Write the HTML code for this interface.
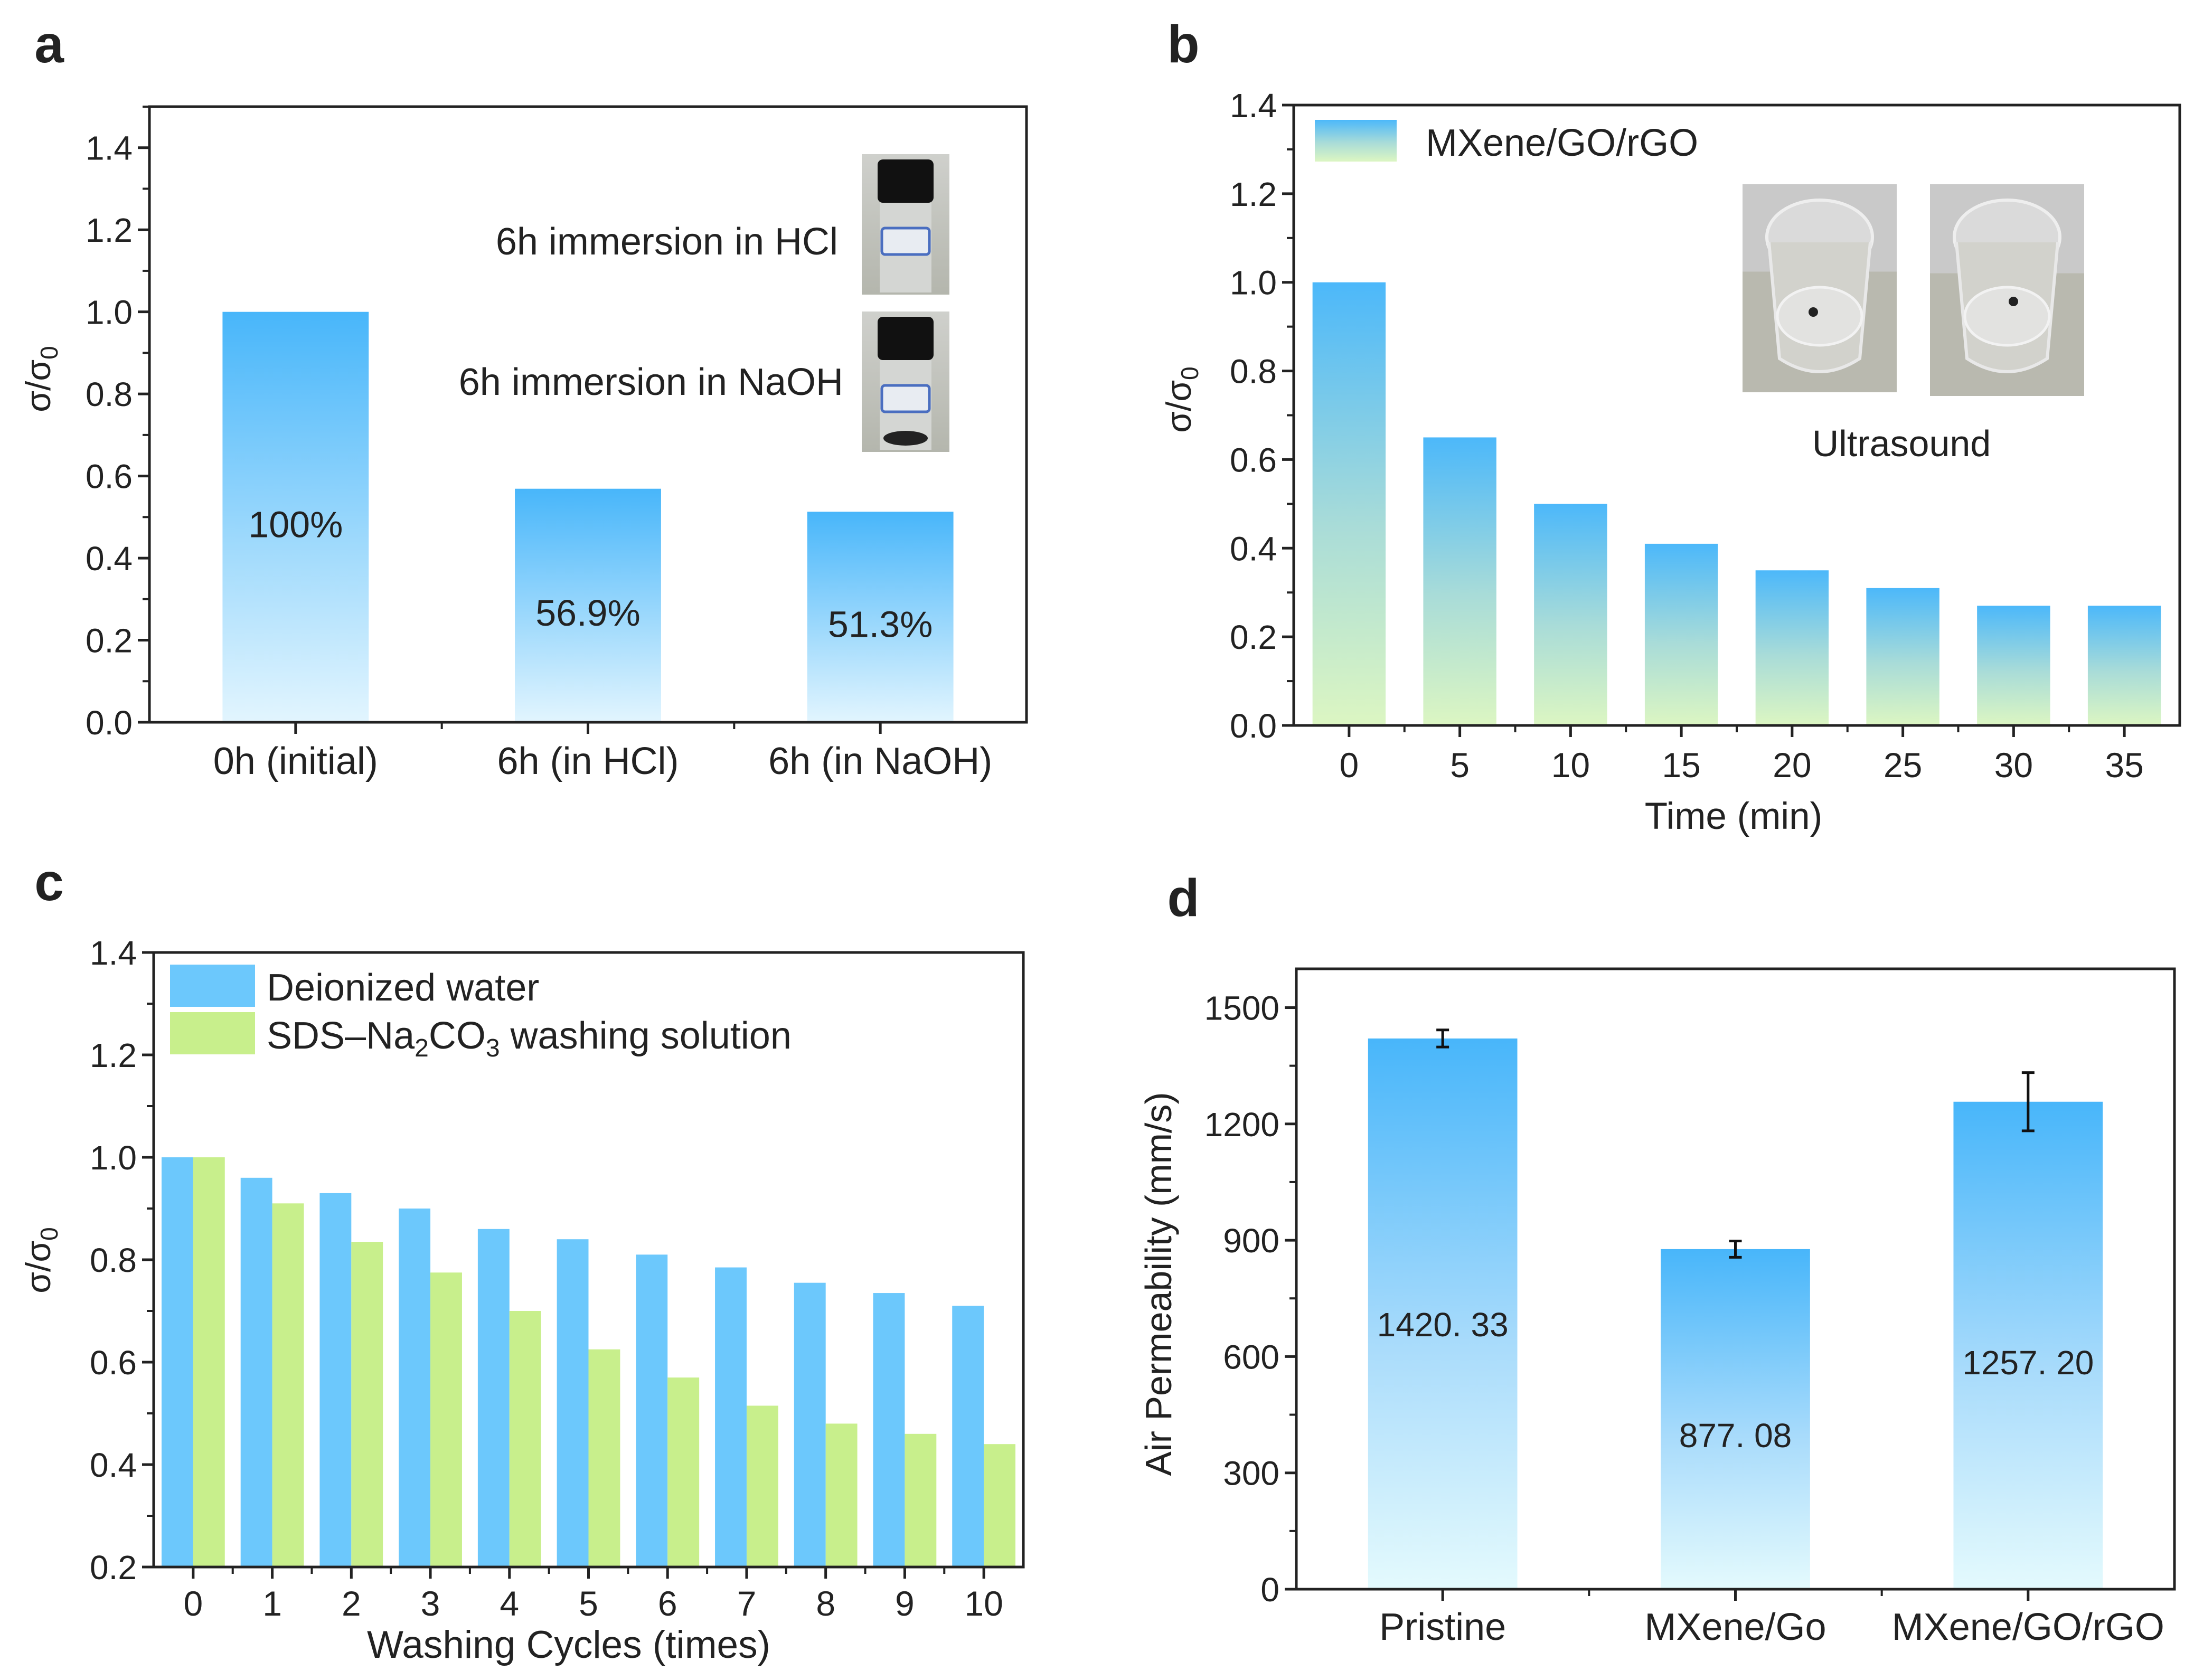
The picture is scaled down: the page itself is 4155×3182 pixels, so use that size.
<!DOCTYPE html>
<html><head><meta charset="utf-8"><style>
html,body{margin:0;padding:0;background:#fff}
svg{display:block;font-family:"Liberation Sans",Arial,sans-serif}
</style></head><body>
<svg id="fig" width="4155" height="3182" viewBox="0 0 4155 3182" xmlns="http://www.w3.org/2000/svg">
<defs>
<linearGradient id="gBlue" x1="0" y1="0" x2="0" y2="1"><stop offset="0" stop-color="#48b6fa"/><stop offset="1" stop-color="#e2f5fe"/></linearGradient>
<linearGradient id="gBlueD" x1="0" y1="0" x2="0" y2="1"><stop offset="0" stop-color="#48b6fa"/><stop offset="0.55" stop-color="#a8dbfb"/><stop offset="1" stop-color="#e4fafd"/></linearGradient>
<linearGradient id="gBG" x1="0" y1="0" x2="0" y2="1"><stop offset="0" stop-color="#4cb8fa"/><stop offset="0.55" stop-color="#a9dcd8"/><stop offset="1" stop-color="#dcf6c2"/></linearGradient>
<linearGradient id="gPhotoA" x1="0" y1="0" x2="0" y2="1"><stop offset="0" stop-color="#cfd0cc"/><stop offset="1" stop-color="#b4b6ad"/></linearGradient>
</defs>
<g id="root"></g>
</svg>
<script>
// ---- data ----
const aCats = ["0h (initial)", "6h (in HCl)", "6h (in NaOH)"];
const aVals = [1.0, 0.569, 0.513];
const aLabels = ["100%", "56.9%", "51.3%"];
const aTicks = [0.0, 0.2, 0.4, 0.6, 0.8, 1.0, 1.2, 1.4];

const bCats = ["0", "5", "10", "15", "20", "25", "30", "35"];
const bVals = [1.0, 0.65, 0.50, 0.41, 0.35, 0.31, 0.27, 0.27];
const bTicks = [0.0, 0.2, 0.4, 0.6, 0.8, 1.0, 1.2, 1.4];

const cCats = ["0", "1", "2", "3", "4", "5", "6", "7", "8", "9", "10"];
const cWater = [1.0, 0.96, 0.93, 0.90, 0.86, 0.84, 0.81, 0.785, 0.755, 0.735, 0.71];
const cSDS = [1.0, 0.91, 0.835, 0.775, 0.70, 0.625, 0.57, 0.515, 0.48, 0.46, 0.44];
const cTicks = [0.2, 0.4, 0.6, 0.8, 1.0, 1.2, 1.4];

const dCats = ["Pristine", "MXene/Go", "MXene/GO/rGO"];
const dVals = [1420.33, 877.08, 1257.20];
const dErr = [22, 21, 75];
const dLabels = ["1420. 33", "877. 08", "1257. 20"];
const dTicks = [0, 300, 600, 900, 1200, 1500];

const NS = "http://www.w3.org/2000/svg";
const root = document.getElementById('root');
function mk(tag, attrs, parent, text){
  const e = document.createElementNS(NS, tag);
  for (const k in attrs) e.setAttribute(k, attrs[k]);
  if (text !== undefined) e.textContent = text;
  (parent || root).appendChild(e);
  return e;
}
function axes(p){
  const g = mk('g', {});
  
  
  p.g = g;
  p.y = v => p.B - (v - p.ymin) / (p.ymax - p.ymin) * (p.B - p.T);
  p.cw = (p.R - p.L) / p.n;
  p.x = i => p.L + p.cw * (i + 0.5);
  return p;
}
function frame(p, ticks, fmt, minorStep){
  const g = p.g;
  for (let v = p.ymin; v <= p.ymax + 1e-9; v += minorStep){
    const yy = p.y(v);
    mk('line', {x1:p.L-13, x2:p.L, y1:yy, y2:yy, stroke:'#222', 'stroke-width':4}, g);
  }
  ticks.forEach(v => {
    const yy = p.y(v);
    const t = mk('line', {x1:p.L-22, x2:p.L, y1:yy, y2:yy, stroke:'#222', 'stroke-width':5}, g);
    
    
    const l = mk('text', {x:p.L-32, y:yy+23, 'text-anchor':'end', 'font-size':64, fill:'#222'}, g, fmt(v));
    
    
  });
  for (let i = 0; i < p.n; i++){
    mk('line', {x1:p.x(i), x2:p.x(i), y1:p.B, y2:p.B+22, stroke:'#222', 'stroke-width':5}, g);
    if (i > 0) mk('line', {x1:p.L+p.cw*i, x2:p.L+p.cw*i, y1:p.B, y2:p.B+13, stroke:'#222', 'stroke-width':4}, g);
  }
  const f = mk('rect', {x:p.L, y:p.T, width:p.R-p.L, height:p.B-p.T, fill:'none', stroke:'#222', 'stroke-width':5}, g);
  
  
}
function txt(x, y, s, size, name, opts){
  const a = Object.assign({x:x, y:y, 'font-size':size, fill:'#222', 'text-anchor':'middle'}, opts||{});
  const t = mk('text', a, root, s);
  
  
  return t;
}
function sigmaLabel(x, y){
  const t = mk('text', {x:0, y:0, 'font-size':66, fill:'#222', 'text-anchor':'middle', transform:`translate(${x},${y}) rotate(-90)`});
  
  
  mk('tspan', {}, t, 'σ/σ');
  mk('tspan', {'font-size':46, dy:14}, t, '0');
}

// ---- Panel a ----
const A = axes({name:'panel-a', L:283, R:1944, T:202, B:1368, ymin:0, ymax:1.5, n:3});
aVals.forEach((v,i) => {
  const w = A.cw*0.5;
  const r = mk('rect', {x:A.x(i)-w/2, y:A.y(v), width:w, height:A.y(0)-A.y(v), fill:'url(#gBlue)'}, A.g);
  
  
  const lt = mk('text', {x:A.x(i), y:A.y(v/2)+38, 'text-anchor':'middle', 'font-size':70, fill:'#222'}, A.g, aLabels[i]);
  
  
  const xl = mk('text', {x:A.x(i), y:1466, 'text-anchor':'middle', 'font-size':72, fill:'#222'}, A.g, aCats[i]);
  
  
});
frame(A, aTicks, v => v.toFixed(1), 0.1);
txt(93, 118, 'a', 100, 'panel-label-a', {'font-weight':'bold'});
sigmaLabel(95, 718);
txt(1587, 482, '6h immersion in HCl', 72, 'inset-label-hcl', {'text-anchor':'end'});
txt(1597, 748, '6h immersion in NaOH', 72, 'inset-label-naoh', {'text-anchor':'end'});
[[1632,292],[1632,590]].forEach((p,k) => {
  const g = mk('g', {});
  
  
  mk('rect', {x:p[0], y:p[1], width:166, height:266, fill:'url(#gPhotoA)'}, g);
  mk('rect', {x:p[0]+30, y:p[1]+10, width:106, height:82, rx:10, fill:'#111'}, g);
  mk('rect', {x:p[0]+34, y:p[1]+92, width:98, height:170, fill:'#d4d6d3'}, g);
  mk('rect', {x:p[0]+38, y:p[1]+140, width:90, height:50, rx:6, fill:'#e8ecf2', stroke:'#4a6ec0', 'stroke-width':5}, g);
  if (k) mk('ellipse', {cx:p[0]+83, cy:p[1]+240, rx:42, ry:14, fill:'#222'}, g);
});

// ---- Panel b ----
const Bp = axes({name:'panel-b', L:2450, R:4128, T:199, B:1374, ymin:0, ymax:1.4, n:8});
bVals.forEach((v,i) => {
  const w = Bp.cw*0.66;
  const r = mk('rect', {x:Bp.x(i)-w/2, y:Bp.y(v), width:w, height:Bp.y(0)-Bp.y(v), fill:'url(#gBG)'}, Bp.g);
  
  
  const xl = mk('text', {x:Bp.x(i), y:1472, 'text-anchor':'middle', 'font-size':66, fill:'#222'}, Bp.g, bCats[i]);
  
  
});
frame(Bp, bTicks, v => v.toFixed(1), 0.1);
txt(2241, 118, 'b', 100, 'panel-label-b', {'font-weight':'bold'});
sigmaLabel(2255, 757);
txt(3283, 1570, 'Time (min)', 71, 'x-axis-title');
const lb = mk('rect', {x:2490, y:227, width:155, height:79, fill:'url(#gBG)'});


txt(2700, 295, 'MXene/GO/rGO', 72, 'legend-label-b', {'text-anchor':'start'});
[[3300,349,292,394],[3655,349,292,401]].forEach((p,k) => {
  const g = mk('g', {});
  
  
  mk('rect', {x:p[0], y:p[1], width:p[2], height:p[3]*0.42, fill:'#c9c9c9'}, g);
  mk('rect', {x:p[0], y:p[1]+p[3]*0.42, width:p[2], height:p[3]*0.58, fill:'#b9b9af'}, g);
  mk('ellipse', {cx:p[0]+p[2]/2, cy:p[1]+100, rx:100, ry:70, fill:'#dadada', stroke:'#eeeeee', 'stroke-width':6}, g);
  mk('path', {d:`M${p[0]+50} ${p[1]+110} L${p[0]+70} ${p[1]+330} Q${p[0]+p[2]/2} ${p[1]+380} ${p[0]+p[2]-70} ${p[1]+330} L${p[0]+p[2]-50} ${p[1]+110}`, fill:'#d2d2cc', stroke:'#e8e8e8', 'stroke-width':6}, g);
  mk('ellipse', {cx:p[0]+p[2]/2, cy:p[1]+250, rx:80, ry:55, fill:'#e2e2e0', stroke:'#f2f2f2', 'stroke-width':5}, g);
  mk('circle', {cx:p[0]+p[2]/2+(k?12:-12), cy:p[1]+(k?222:242), r:9, fill:'#222'}, g);
});
txt(3601, 864, 'Ultrasound', 70, 'inset-label-ultrasound');

// ---- Panel c ----
const Cp = axes({name:'panel-c', L:291, R:1938, T:1804, B:2968, ymin:0.2, ymax:1.4, n:11});
cWater.forEach((v,i) => {
  const w = Cp.cw*0.4;
  const r = mk('rect', {x:Cp.x(i)-w, y:Cp.y(v), width:w, height:Cp.y(0.2)-Cp.y(v), fill:'#6cc8fc'}, Cp.g);
  
  
});
cSDS.forEach((v,i) => {
  const w = Cp.cw*0.4;
  const r = mk('rect', {x:Cp.x(i), y:Cp.y(v), width:w, height:Cp.y(0.2)-Cp.y(v), fill:'#c8ef8c'}, Cp.g);
  
  
  const xl = mk('text', {x:Cp.x(i), y:3060, 'text-anchor':'middle', 'font-size':66, fill:'#222'}, Cp.g, cCats[i]);
  
  
});
frame(Cp, cTicks, v => v.toFixed(1), 0.1);
txt(93, 1705, 'c', 100, 'panel-label-c', {'font-weight':'bold'});
sigmaLabel(95, 2387);
txt(1077, 3140, 'Washing Cycles (times)', 73, 'x-axis-title');
const s1 = mk('rect', {x:322, y:1827, width:161, height:80, fill:'#6cc8fc'});


const s2 = mk('rect', {x:322, y:1917, width:161, height:80, fill:'#c8ef8c'});


txt(505, 1895, 'Deionized water', 72, 'legend-label-water', {'text-anchor':'start'});
const lt2 = txt(505, 1986, '', 72, 'legend-label-sds', {'text-anchor':'start'});
mk('tspan', {}, lt2, 'SDS–Na');
mk('tspan', {'font-size':48, dy:15}, lt2, '2');
mk('tspan', {dy:-15}, lt2, 'CO');
mk('tspan', {'font-size':48, dy:15}, lt2, '3');
mk('tspan', {dy:-15}, lt2, ' washing solution');

// ---- Panel d ----
const Dp = axes({name:'panel-d', L:2455, R:4118, T:1835, B:3010, ymin:0, ymax:1600, n:3});
dVals.forEach((v,i) => {
  const w = Dp.cw*0.51;
  const r = mk('rect', {x:Dp.x(i)-w/2, y:Dp.y(v), width:w, height:Dp.y(0)-Dp.y(v), fill:'url(#gBlueD)'}, Dp.g);
  
  
  const e = mk('path', {d:`M${Dp.x(i)} ${Dp.y(v+dErr[i])} V${Dp.y(v-dErr[i])} M${Dp.x(i)-12} ${Dp.y(v+dErr[i])} H${Dp.x(i)+12} M${Dp.x(i)-12} ${Dp.y(v-dErr[i])} H${Dp.x(i)+12}`, stroke:'#111', 'stroke-width':5, fill:'none'}, Dp.g);
  
  
  const xl = mk('text', {x:Dp.x(i), y:3106, 'text-anchor':'middle', 'font-size':72, fill:'#222'}, Dp.g, dCats[i]);
  
  
});
const dLabY = [2509, 2719, 2581];
dLabels.forEach((s,i) => {
  const t = mk('text', {x:Dp.x(i), y:dLabY[i]+22, 'text-anchor':'middle', 'font-size':64, fill:'#222'}, Dp.g, s);
  
  
});
frame(Dp, dTicks, v => String(v), 150);
txt(2241, 1735, 'd', 100, 'panel-label-d', {'font-weight':'bold'});
const dy = mk('text', {x:0, y:0, 'font-size':70, fill:'#222', 'text-anchor':'middle', transform:'translate(2218,2432) rotate(-90)'}, root, 'Air  Permeability (mm/s)');


</script>
</body></html>
